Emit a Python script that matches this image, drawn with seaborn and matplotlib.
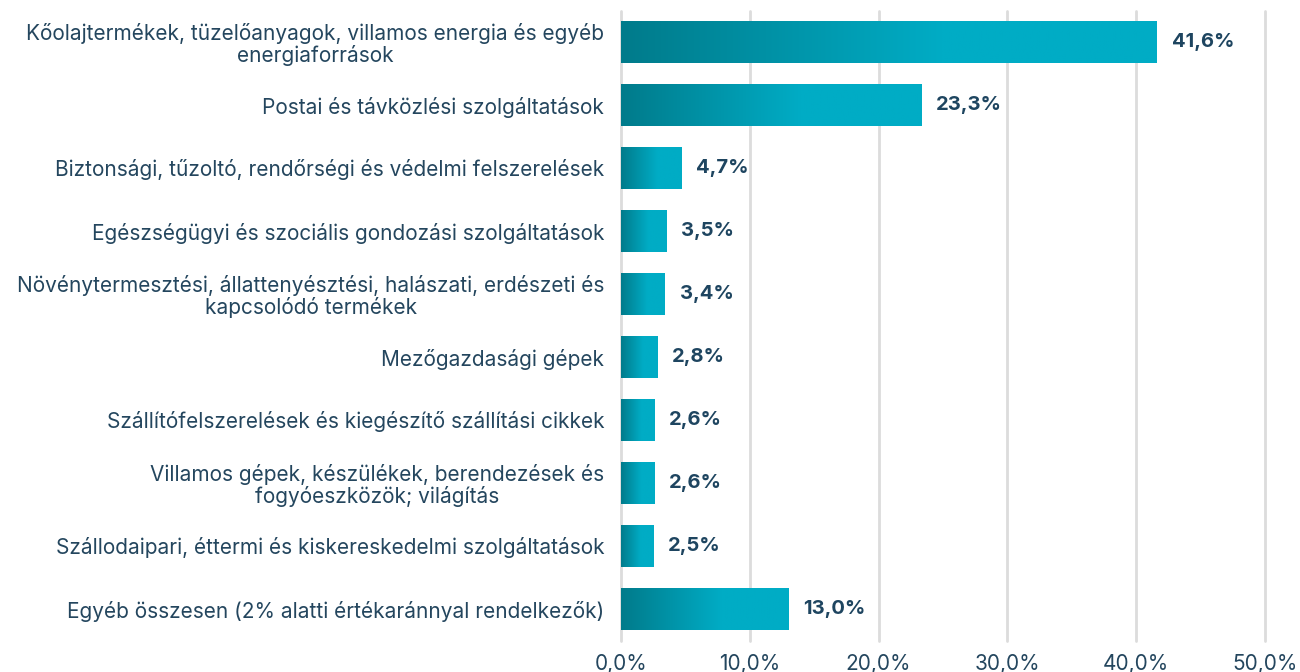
import numpy as np
import pandas as pd
import matplotlib
matplotlib.use('Agg')
import matplotlib.pyplot as plt
import seaborn as sns
from matplotlib.colors import LinearSegmentedColormap

kategoriak = [
    'Kőolajtermékek, tüzelőanyagok, villamos energia és egyéb\nenergiaforrások',
    'Postai és távközlési szolgáltatások',
    'Biztonsági, tűzoltó, rendőrségi és védelmi felszerelések',
    'Egészségügyi és szociális gondozási szolgáltatások',
    'Növénytermesztési, állattenyésztési, halászati, erdészeti és\nkapcsolódó termékek',
    'Mezőgazdasági gépek',
    'Szállítófelszerelések és kiegészítő szállítási cikkek',
    'Villamos gépek, készülékek, berendezések és\nfogyóeszközök; világítás',
    'Szállodaipari, éttermi és kiskereskedelmi szolgáltatások',
    'Egyéb összesen (2% alatti értékaránnyal rendelkezők)',
]
ertekek = [41.6, 23.3, 4.7, 3.5, 3.4, 2.8, 2.6, 2.6, 2.5, 13.0]
xticks = [0, 10, 20, 30, 40, 50]

df = pd.DataFrame({'kat': kategoriak, 'ertek': ertekek})

sns.set_theme(style='white')
plt.rcParams['font.family'] = ['Inter', 'DejaVu Sans']

szoveg = '#24465e'
fig = plt.figure(figsize=(13, 6.72), dpi=100)
ax = fig.add_axes([621 / 1300, 1 - 640.5 / 672, (1265 - 621) / 1300, 630 / 672])

sns.barplot(data=df, x='ertek', y='kat', orient='h', width=0.68, ax=ax,
            color='#00acc4', edgecolor='none', zorder=2)

# szinatmenet a rudakon
cmap = LinearSegmentedColormap.from_list('teal', [(0, '#007b8b'), (0.6, '#00acc5'), (1, '#00acc5')])
grad = np.linspace(0, 1, 256).reshape(1, -1)
for p in ax.patches:
    x0, y0 = p.get_x(), p.get_y()
    w, h = p.get_width(), p.get_height()
    p.set_facecolor('none')
    im = ax.imshow(grad, cmap=cmap, aspect='auto', extent=[x0, x0 + w, y0 + h, y0],
                   zorder=2, interpolation='bilinear')
    im.set_clip_path(p)

for i, v in enumerate(ertekek):
    ax.text(v + 1.15, i, f'{v:.1f}%'.replace('.', ','), va='center', ha='left',
            fontsize=14.5, fontweight='bold', color='#1e4560')

ax.set_xlim(0, 50)
ax.set_ylim(9.5, -0.5)
ax.set_xticks(xticks)
ax.set_xticklabels([f'{t:.1f}%'.replace('.', ',') for t in xticks], fontsize=15, color=szoveg)
ax.set_yticks(range(len(kategoriak)))
ax.set_yticklabels(kategoriak, fontsize=15, color=szoveg, multialignment='center', linespacing=1.05)
ax.tick_params(axis='y', length=0, pad=12)
ax.tick_params(axis='x', length=0, pad=10)
ax.set_xlabel('')
ax.set_ylabel('')
ax.grid(axis='x', color='#dcdcdc', linewidth=2, zorder=0)
for gl in ax.get_xgridlines():
    gl.set_clip_on(False)
ax.set_axisbelow(True)
sns.despine(ax=ax, left=True, bottom=True)

fig.savefig('out.png', dpi=100)
